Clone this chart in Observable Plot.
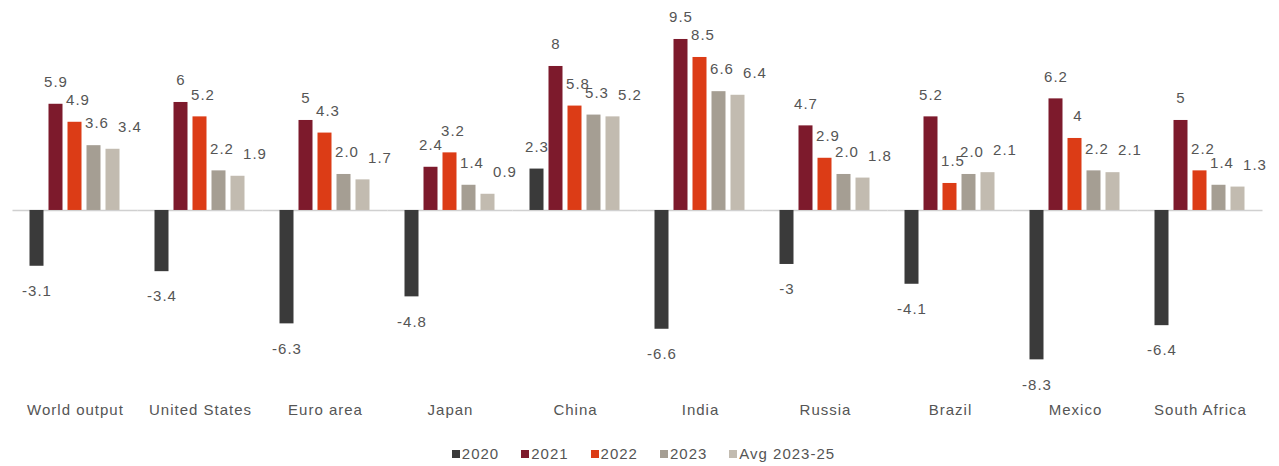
<!DOCTYPE html>
<html>
<head>
<meta charset="utf-8">
<script src="https://cdn.jsdelivr.net/npm/d3@7"></script>
<script src="https://cdn.jsdelivr.net/npm/@observablehq/plot@0.6"></script>
<style>
  html, body { margin: 0; padding: 0; background: #fff; }
  body { width: 1279px; height: 466px; overflow: hidden; font-family: "Liberation Sans", Arial, sans-serif; }
  #chart svg text { letter-spacing: 1px; }
  #legend { display: flex; justify-content: center; gap: 22px; font-size: 15px; letter-spacing: 1px; color: #555; padding-top: 20px; padding-left: 8px; line-height: 18px; }
  #legend span.item { display: inline-flex; align-items: center; }
  #legend span.sw { display: inline-block; width: 8px; height: 8px; margin-right: 2px; }
</style>
</head>
<body>
<div id="chart"></div>
<div id="legend"></div>
<script>
const countries = ["World output", "United States", "Euro area", "Japan", "China", "India", "Russia", "Brazil", "Mexico", "South Africa"];
const series = ["2020", "2021", "2022", "2023", "Avg 2023-25"];
const v2020 = [-3.1, -3.4, -6.3, -4.8, 2.3, -6.6, -3, -4.1, -8.3, -6.4];
const v2021 = [5.9, 6, 5, 2.4, 8, 9.5, 4.7, 5.2, 6.2, 5];
const v2022 = [4.9, 5.2, 4.3, 3.2, 5.8, 8.5, 2.9, 1.5, 4, 2.2];
const v2023 = [3.6, 2.2, 2.0, 1.4, 5.3, 6.6, 2.0, 2.0, 2.2, 1.4];
const vAvg = [3.4, 1.9, 1.7, 0.9, 5.2, 6.4, 1.8, 2.1, 2.1, 1.3];
const labels2020 = ["-3.1", "-3.4", "-6.3", "-4.8", "2.3", "-6.6", "-3", "-4.1", "-8.3", "-6.4"];
const labels2021 = ["5.9", "6", "5", "2.4", "8", "9.5", "4.7", "5.2", "6.2", "5"];
const labels2022 = ["4.9", "5.2", "4.3", "3.2", "5.8", "8.5", "2.9", "1.5", "4", "2.2"];
const labels2023 = ["3.6", "2.2", "2.0", "1.4", "5.3", "6.6", "2.0", "2.0", "2.2", "1.4"];
const labelsAvg = ["3.4", "1.9", "1.7", "0.9", "5.2", "6.4", "1.8", "2.1", "2.1", "1.3"];
const colors = ["#3a3a3a", "#7d1a2c", "#dc3c16", "#a59e93", "#c2bbb0"];

const valueSets = [v2020, v2021, v2022, v2023, vAvg];
const labelSets = [labels2020, labels2021, labels2022, labels2023, labelsAvg];
const labelDx = [0, 0, 3, 3, 17];

const data = [];
countries.forEach((c, i) => {
  series.forEach((s, j) => {
    data.push({country: c, series: s, value: valueSets[j][i], label: labelSets[j][i]});
  });
});

const pos = data.filter(d => d.value >= 0);
const neg = data.filter(d => d.value < 0);

const chart = Plot.plot({
  width: 1279,
  height: 425,
  marginLeft: 12.5,
  marginRight: 16.5,
  marginTop: 10,
  marginBottom: 30,
  style: {fontFamily: "'Liberation Sans', Arial, sans-serif", fontSize: "15px", color: "#555", background: "#fff"},
  fx: {domain: countries, paddingInner: 0.2, paddingOuter: 0.1, label: null, axis: "bottom", tickSize: 0, tickPadding: 9},
  x: {domain: series, padding: 0.26, axis: null},
  y: {domain: [-10.28, 11.11], axis: null},
  color: {domain: series, range: colors},
  marks: [
    Plot.ruleY([0], {stroke: "#d0d0d0", strokeWidth: 1.5, insetLeft: -12.5, insetRight: -12.5}),
    Plot.barY(data, {fx: "country", x: "series", y: "value", fill: "series"}),
    ...series.map((s, j) => Plot.text(pos.filter(d => d.series === s), {
      fx: "country", x: "series", y: "value", text: "label",
      dx: labelDx[j], dy: -22, fontSize: 15, fill: "#555", lineAnchor: "middle"
    })),
    Plot.text(neg, {
      fx: "country", x: "series", y: "value", text: "label",
      dy: 25, fontSize: 15, fill: "#555", lineAnchor: "middle"
    })
  ]
});
document.getElementById("chart").appendChild(chart);

const legend = document.getElementById("legend");
series.forEach((s, j) => {
  const item = document.createElement("span");
  item.className = "item";
  const sw = document.createElement("span");
  sw.className = "sw";
  sw.style.background = colors[j];
  item.appendChild(sw);
  item.appendChild(document.createTextNode(s));
  legend.appendChild(item);
});
</script>
</body>
</html>
